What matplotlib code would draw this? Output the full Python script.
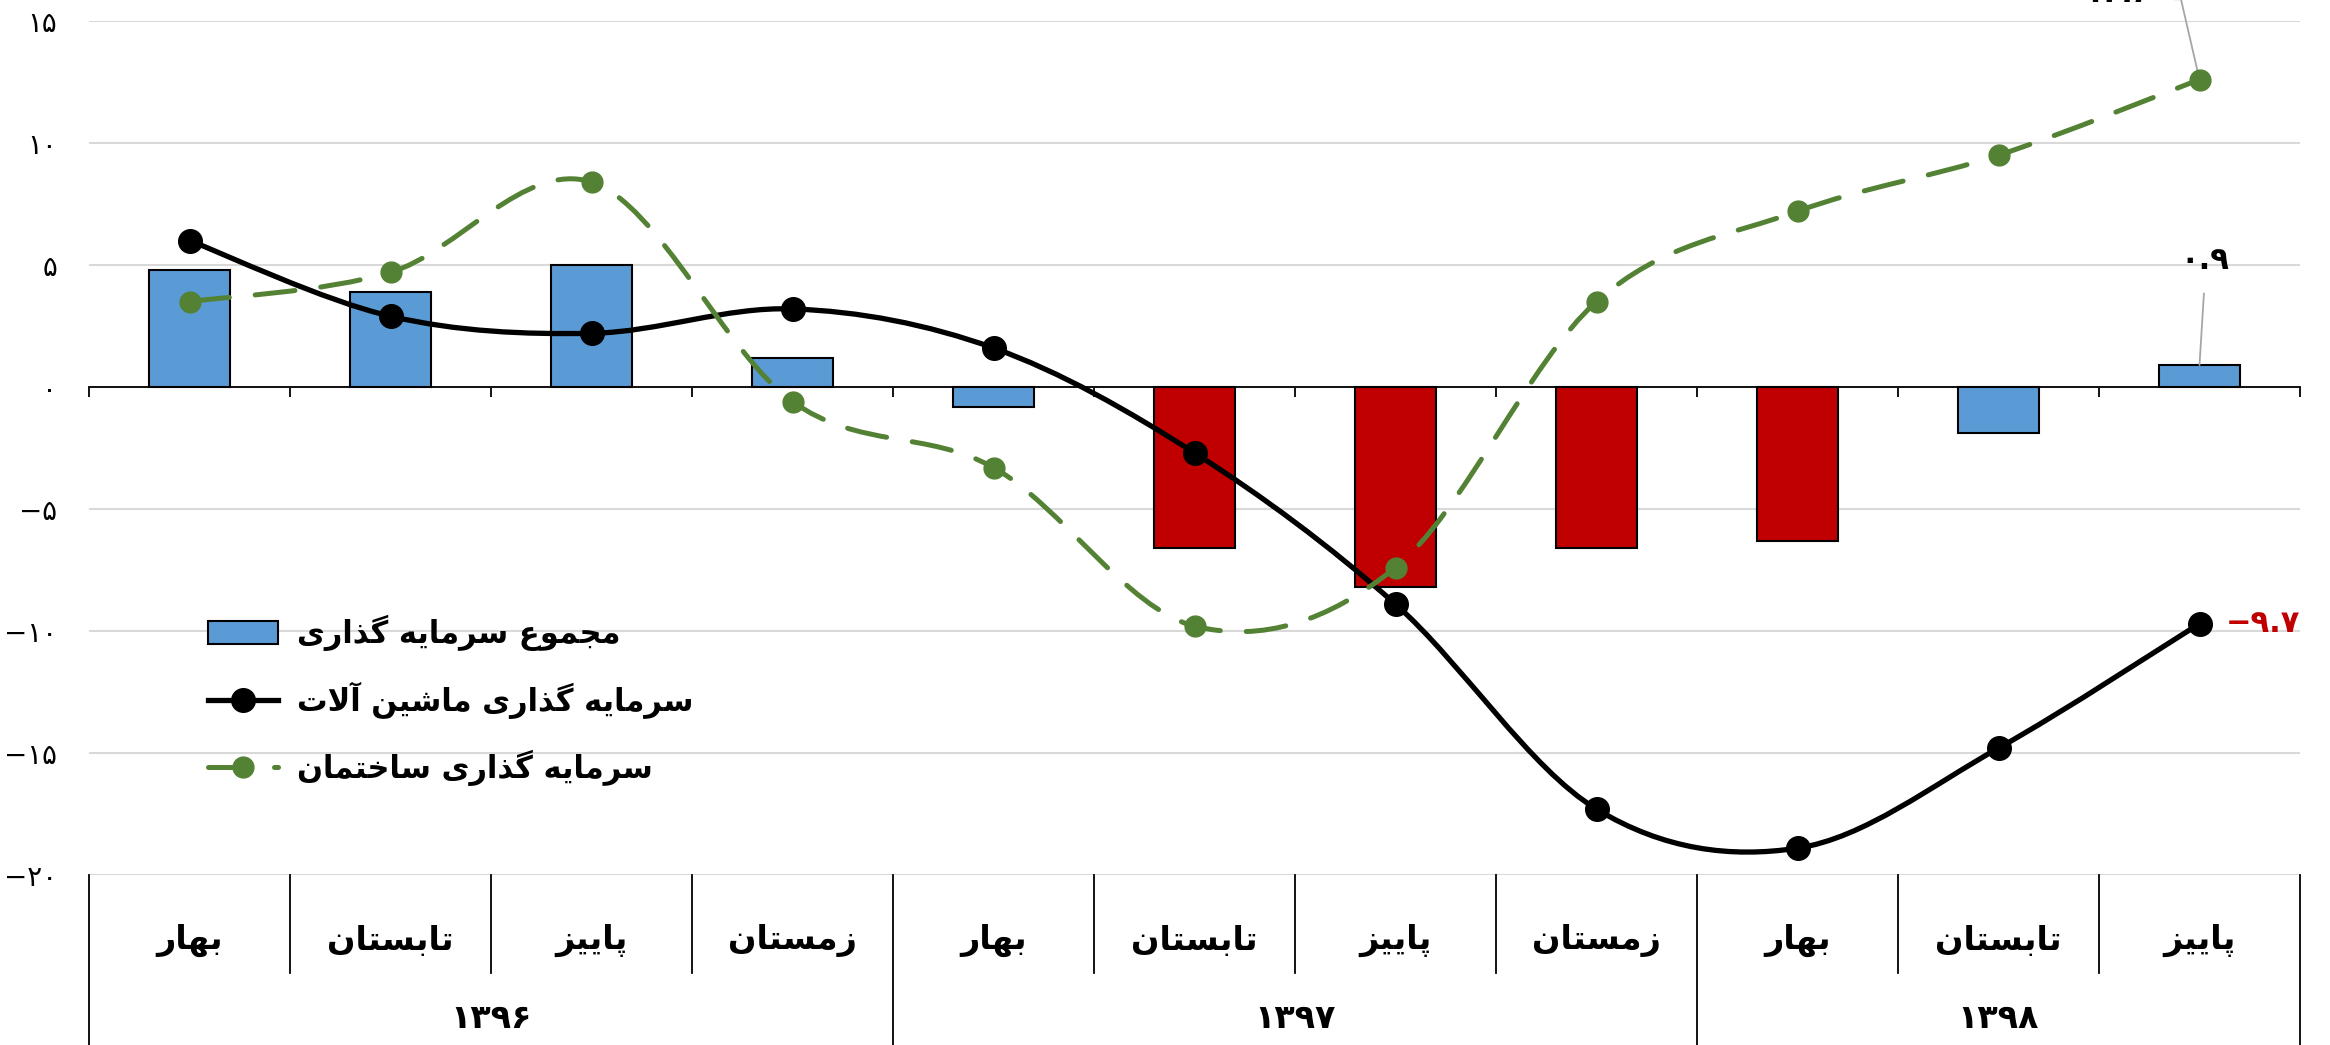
import matplotlib
matplotlib.use('Agg')
import matplotlib.pyplot as plt
import matplotlib.transforms as mtransforms
from matplotlib.path import Path
from matplotlib.patches import PathPatch, Patch
from matplotlib.lines import Line2D
import numpy as np

plt.rcParams['font.family'] = ['DejaVu Sans']

# داده ها
seasons = ['بهار', 'تابستان', 'پاییز', 'زمستان',
           'بهار', 'تابستان', 'پاییز', 'زمستان',
           'بهار', 'تابستان', 'پاییز']
years = ['۱۳۹۶', '۱۳۹۷', '۱۳۹۸']
year_span = [4, 4, 3]
total = [4.8, 3.9, 5.0, 1.2, -0.8, -6.6, -8.2, -6.6, -6.3, -1.9, 0.9]
machinery = [6.0, 2.9, 2.2, 3.2, 1.6, -2.7, -8.9, -17.3, -18.9, -14.8, -9.7]
building = [3.5, 4.7, 8.4, -0.6, -3.3, -9.8, -7.4, 3.5, 7.2, 9.5, 12.6]
red_bars = [5, 6, 7, 8]
names = ['مجموع سرمایه گذاری', 'سرمایه گذاری ماشین آلات', 'سرمایه گذاری ساختمان']

BLUE = '#5B9BD5'
RED = '#C00000'
GREEN = '#548235'
DASH = (0, (8, 5.2))

# شکل دادن حروف فارسی (matplotlib خودش این کار را نمی کند)
FORMS = {
    'ا': (0xFE8D, 0xFE8E, None, None), 'آ': (0xFE81, 0xFE82, None, None),
    'ب': (0xFE8F, 0xFE90, 0xFE91, 0xFE92), 'پ': (0xFB56, 0xFB57, 0xFB58, 0xFB59),
    'ت': (0xFE95, 0xFE96, 0xFE97, 0xFE98), 'ج': (0xFE9D, 0xFE9E, 0xFE9F, 0xFEA0),
    'خ': (0xFEA5, 0xFEA6, 0xFEA7, 0xFEA8), 'د': (0xFEA9, 0xFEAA, None, None),
    'ذ': (0xFEAB, 0xFEAC, None, None), 'ر': (0xFEAD, 0xFEAE, None, None),
    'ز': (0xFEAF, 0xFEB0, None, None), 'س': (0xFEB1, 0xFEB2, 0xFEB3, 0xFEB4),
    'ش': (0xFEB5, 0xFEB6, 0xFEB7, 0xFEB8), 'ع': (0xFEC9, 0xFECA, 0xFECB, 0xFECC),
    'گ': (0xFB92, 0xFB93, 0xFB94, 0xFB95), 'ل': (0xFEDD, 0xFEDE, 0xFEDF, 0xFEE0),
    'م': (0xFEE1, 0xFEE2, 0xFEE3, 0xFEE4), 'ن': (0xFEE5, 0xFEE6, 0xFEE7, 0xFEE8),
    'ه': (0xFEE9, 0xFEEA, 0xFEEB, 0xFEEC), 'و': (0xFEED, 0xFEEE, None, None),
    'ی': (0xFBFC, 0xFBFD, 0xFBFE, 0xFBFF),
}
LAM_ALEF = {'ا': (0xFEFB, 0xFEFC), 'آ': (0xFEF5, 0xFEF6)}


def fa(text):
    out = []
    prev_joins = False
    i = 0
    while i < len(text):
        c = text[i]
        n = text[i + 1] if i + 1 < len(text) else ''
        if c not in FORMS:
            out.append(c)
            prev_joins = False
            i += 1
            continue
        if c == 'ل' and n in LAM_ALEF:
            out.append(chr(LAM_ALEF[n][1 if prev_joins else 0]))
            prev_joins = False
            i += 2
            continue
        iso, fin, ini, med = FORMS[c]
        joins_next = ini is not None and n in FORMS
        if prev_joins and joins_next:
            g = med
        elif prev_joins:
            g = fin
        elif joins_next:
            g = ini
        else:
            g = iso
        out.append(chr(g))
        prev_joins = joins_next
        i += 1
    return ''.join(reversed(out))


FA_DIGITS = str.maketrans('0123456789', '۰۱۲۳۴۵۶۷۸۹')


def fa_num(v):
    s = f'{abs(v):g}'.translate(FA_DIGITS)
    return ('−' + s) if v < 0 else s


def smooth_path(xs, ys, t=1 / 6):
    # منحنی هموار شبیه اکسل
    p = np.column_stack([xs, ys]).astype(float)
    n = len(p)
    verts = [p[0]]
    codes = [Path.MOVETO]
    for i in range(n - 1):
        p0 = p[i - 1] if i > 0 else p[i]
        p3 = p[i + 2] if i + 2 < n else p[i + 1]
        c1 = p[i] + (p[i + 1] - p0) * t
        c2 = p[i + 1] - (p3 - p[i]) * t
        verts += [c1, c2, p[i + 1]]
        codes += [Path.CURVE4] * 3
    return Path(verts, codes)


W, H = 2330, 1045
fig = plt.figure(figsize=(W / 100, H / 100), dpi=100)
ax = fig.add_axes([89 / W, 170 / H, (2300 - 89) / W, (875 - 21) / H])

x = np.arange(len(seasons))
colors = [RED if i in red_bars else BLUE for i in x]
ax.bar(x, total, width=0.4, color=colors, edgecolor='black', linewidth=1.5, zorder=2)

ax.add_patch(PathPatch(smooth_path(x, machinery), fill=False, edgecolor='black',
                       linewidth=3.8, capstyle='round', zorder=3))
ax.plot(x, machinery, 'o', color='black', markersize=17, zorder=4)

green = PathPatch(smooth_path(x, building), fill=False, edgecolor=GREEN,
                  linewidth=3.6, linestyle=DASH, zorder=5)
green.set_capstyle('round')
ax.add_patch(green)
ax.plot(x, building, 'o', color=GREEN, markersize=15, zorder=6)

ax.set_xlim(-0.5, len(seasons) - 0.5)
ax.set_ylim(-20, 15)
yt = list(range(-20, 16, 5))
ax.set_yticks(yt)
ax.set_yticklabels([fa_num(v) for v in yt], fontsize=20)
ax.tick_params(axis='y', length=0, pad=23)
ax.yaxis.grid(True, color='#D9D9D9', linewidth=1.5)
ax.set_axisbelow(True)

for s in ['left', 'right', 'top']:
    ax.spines[s].set_visible(False)
ax.spines['bottom'].set_position(('data', 0))
ax.spines['bottom'].set_linewidth(1.3)
ax.spines['bottom'].set_zorder(2.5)
ax.set_xticks(np.arange(-0.5, len(seasons), 1))
ax.set_xticklabels([])
ax.tick_params(axis='x', length=7, width=1.3, direction='out')

# جدول دسته ها زیر نمودار
trans = mtransforms.blended_transform_factory(ax.transData, ax.transAxes)
year_edges = np.concatenate([[0], np.cumsum(year_span)]) - 0.5
for b in np.arange(-0.5, len(seasons), 1):
    bottom = -0.2 if np.any(np.isclose(b, year_edges)) else -0.115
    ax.plot([b, b], [0, bottom], transform=trans, clip_on=False, color='black', lw=1.3)
for i, s in enumerate(seasons):
    ax.text(i, -0.077, fa(s), transform=trans, ha='center', va='center',
            fontsize=24, weight='bold')
for k, yname in enumerate(years):
    c = year_edges[k] + year_span[k] / 2
    ax.text(c, -0.168, yname, transform=trans, ha='center', va='center',
            fontsize=24, weight='bold')

# برچسب ها
ax.annotate(fa_num(total[-1]), xy=(x[-1], total[-1]), xytext=(4, 75),
            textcoords='offset points', ha='center', va='center', fontsize=22, weight='bold',
            arrowprops=dict(arrowstyle='-', color='#A6A6A6', lw=1.3, shrinkA=11, shrinkB=0,
                            relpos=(0.5, 0)))
ax.annotate(fa_num(building[-1]), xy=(x[-1], building[-1]), xytext=(-34, 62),
            textcoords='offset points', ha='right', va='center', fontsize=22, weight='bold',
            annotation_clip=False,
            arrowprops=dict(arrowstyle='-', color='#A6A6A6', lw=1.3, shrinkA=14, shrinkB=0,
                            relpos=(1, 0.3), connectionstyle='angle,angleA=0,angleB=103,rad=0'))
ax.annotate(fa_num(machinery[-1]), xy=(x[-1], machinery[-1]), xytext=(19, 0),
            textcoords='offset points', ha='left', va='center', fontsize=22, weight='bold',
            color=RED)

handles = [Patch(facecolor=BLUE, edgecolor='black', linewidth=1.5),
           Line2D([], [], color='black', lw=3.8, marker='o', markersize=17),
           Line2D([], [], color=GREEN, lw=3.6, marker='o', markersize=15,
                  linestyle=DASH, dash_capstyle='round')]
fig.legend(handles, [fa(n) for n in names], loc='upper left',
           bbox_to_anchor=(208 / W, 1 - 615 / H), frameon=False,
           prop=dict(size=22, weight='bold'), handlelength=2.3, handleheight=0.8,
           labelspacing=1.0, borderpad=0, borderaxespad=0, handletextpad=0.6)

fig.savefig('out.png', dpi=100)
